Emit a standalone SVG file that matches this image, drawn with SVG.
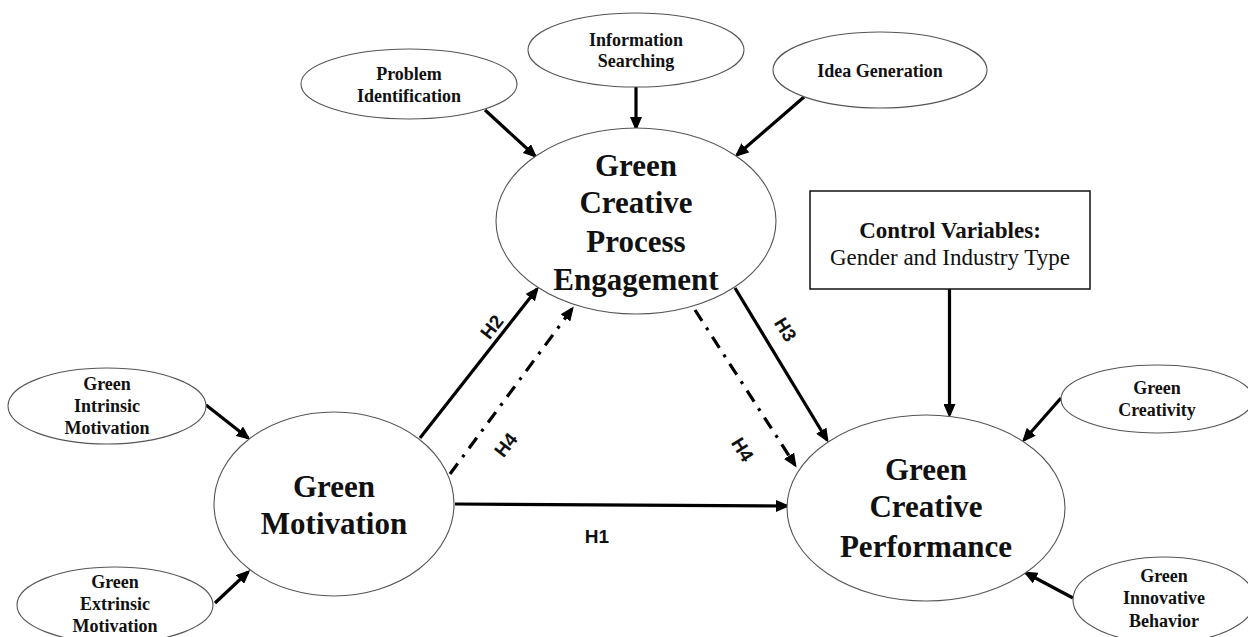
<svg xmlns="http://www.w3.org/2000/svg" width="1248" height="637" viewBox="0 0 1248 637">
<style>
.bg{fill:#fff}
.node{fill:#fff;stroke:#555;stroke-width:1.1}
.box{fill:#fff;stroke:#111;stroke-width:1.5}
.t{font-family:"Liberation Serif","Times New Roman",serif;font-weight:bold;fill:#111;text-anchor:middle}
.s{font-size:18px}
.b{font-size:31px}
.c{font-size:23px}
.r{font-weight:normal}
.lab{font-family:"Liberation Sans",Arial,sans-serif;font-weight:bold;font-size:19px;fill:#111;text-anchor:middle}
.a{stroke:#000;stroke-width:3.2;fill:none;marker-end:url(#ah)}
.d{stroke:#000;stroke-width:3.2;fill:none;stroke-dasharray:13 8 3 8;marker-end:url(#ah)}
</style>
<defs>
<marker id="ah" markerUnits="userSpaceOnUse" markerWidth="14" markerHeight="12" refX="11" refY="6" orient="auto">
<path d="M0,0 L14,6 L0,12 z" fill="#000"/>
</marker>
</defs>
<rect class="bg" x="0" y="0" width="1248" height="637"/>

<g id="connectors">
<line class="a" x1="485" y1="110" x2="535" y2="156"/>
<line class="a" x1="636" y1="87" x2="636" y2="128"/>
<line class="a" x1="804" y1="97" x2="737" y2="155"/>
<line class="a" x1="949.5" y1="289" x2="949.5" y2="415"/>
<line class="a" x1="206" y1="405" x2="248" y2="438"/>
<line class="a" x1="215" y1="603" x2="248" y2="572"/>
<line class="a" x1="420" y1="438" x2="537" y2="289"/>
<line class="d" x1="450" y1="474" x2="572" y2="309"/>
<line class="a" x1="455" y1="504" x2="787" y2="506"/>
<line class="a" x1="735" y1="288" x2="827" y2="440"/>
<line class="d" x1="695" y1="310" x2="795" y2="465"/>
<line class="a" x1="1061" y1="398" x2="1024" y2="440"/>
<line class="a" x1="1073" y1="598" x2="1026" y2="573"/>
<text class="lab" transform="translate(497,331) rotate(-52)">H2</text>
<text class="lab" transform="translate(511,449) rotate(-52)">H4</text>
<text class="lab" x="597" y="543">H1</text>
<text class="lab" transform="translate(780,333) rotate(58)">H3</text>
<text class="lab" transform="translate(737,453) rotate(58)">H4</text>
</g>

<g id="problem-identification">
<ellipse class="node" cx="409" cy="84" rx="108" ry="35"/>
<text class="t s" x="409" y="80">Problem</text>
<text class="t s" x="409" y="102">Identification</text>
</g>
<g id="information-searching">
<ellipse class="node" cx="636" cy="50" rx="108" ry="37"/>
<text class="t s" x="636" y="46">Information</text>
<text class="t s" x="636" y="67">Searching</text>
</g>
<g id="idea-generation">
<ellipse class="node" cx="880" cy="70" rx="107" ry="38"/>
<text class="t s" x="880" y="77">Idea Generation</text>
</g>
<g id="gcpe">
<ellipse class="node" cx="636" cy="221" rx="140" ry="93"/>
<text class="t b" x="636" y="176">Green</text>
<text class="t b" x="636" y="213">Creative</text>
<text class="t b" x="636" y="252">Process</text>
<text class="t b" x="636" y="290">Engagement</text>
</g>
<g id="control-variables">
<rect class="box" x="810" y="191" width="280" height="98"/>
<text class="t c" x="950" y="238">Control Variables:</text>
<text class="t c r" x="950" y="265">Gender and Industry Type</text>
</g>
<g id="green-intrinsic-motivation">
<ellipse class="node" cx="107" cy="406" rx="99" ry="38"/>
<text class="t s" x="107" y="390">Green</text>
<text class="t s" x="107" y="412">Intrinsic</text>
<text class="t s" x="107" y="434">Motivation</text>
</g>
<g id="green-extrinsic-motivation">
<ellipse class="node" cx="115" cy="605" rx="98" ry="38"/>
<text class="t s" x="115" y="588">Green</text>
<text class="t s" x="115" y="610">Extrinsic</text>
<text class="t s" x="115" y="632">Motivation</text>
</g>
<g id="green-motivation">
<ellipse class="node" cx="334" cy="504" rx="120" ry="92"/>
<text class="t b" x="334" y="497">Green</text>
<text class="t b" x="334" y="534">Motivation</text>
</g>
<g id="gcp">
<ellipse class="node" cx="926" cy="508" rx="139" ry="93"/>
<text class="t b" x="926" y="480">Green</text>
<text class="t b" x="926" y="517">Creative</text>
<text class="t b" x="926" y="557">Performance</text>
</g>
<g id="green-creativity">
<ellipse class="node" cx="1157" cy="399" rx="96" ry="34"/>
<text class="t s" x="1157" y="394">Green</text>
<text class="t s" x="1157" y="416">Creativity</text>
</g>
<g id="green-innovative-behavior">
<ellipse class="node" cx="1164" cy="600" rx="91" ry="43"/>
<text class="t s" x="1164" y="582">Green</text>
<text class="t s" x="1164" y="604">Innovative</text>
<text class="t s" x="1164" y="627">Behavior</text>
</g>
</svg>
